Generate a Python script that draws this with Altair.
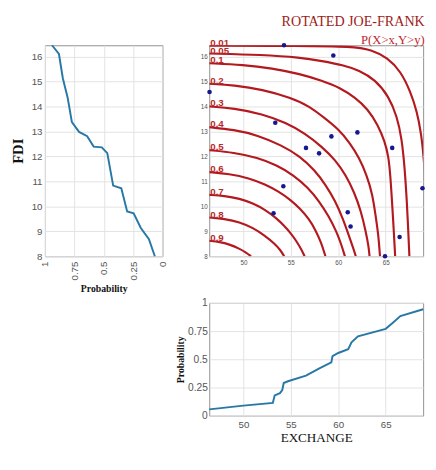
import altair as alt
import pandas as pd

# ---------------- data ----------------
# Left marginal: CDF of FDI
fdi_values = [16.45, 16.10, 15.13, 14.35, 13.37, 12.98, 12.81, 12.39, 12.36, 12.13,
              10.83, 10.72, 9.79, 9.72, 9.13, 8.68, 8.00]
fdi_prob = [0.940, 0.881, 0.848, 0.807, 0.771, 0.710, 0.641, 0.586, 0.517, 0.470,
            0.420, 0.351, 0.301, 0.246, 0.185, 0.116, 0.066]

# Bottom marginal: CDF of EXCHANGE
exch_values = [46.4, 50.0, 53.1, 53.3, 53.85, 54.1, 54.25, 54.7, 56.6, 57.96,
               59.27, 59.4, 60.0, 61.05, 61.4, 62.08, 65.0, 65.7, 66.55, 68.95]
exch_prob = [0.056, 0.089, 0.113, 0.180, 0.200, 0.228, 0.290, 0.305, 0.355, 0.417,
             0.472, 0.528, 0.556, 0.590, 0.650, 0.703, 0.770, 0.820, 0.883, 0.944]

# Observations
obs_exchange = [54.28, 59.48, 46.43, 53.36, 59.28, 62.02, 56.60, 57.98,
                65.69, 54.21, 68.88, 53.18, 61.00, 61.30, 66.47, 64.93]
obs_fdi = [16.45, 16.04, 14.58, 13.35, 12.80, 12.96, 12.34, 12.12,
           12.34, 10.80, 10.72, 9.72, 9.76, 9.19, 8.77, 8.00]

# Contour levels of P(X>x, Y>y)
levels = ["0.01", "0.05", "0.1", "0.2", "0.3", "0.4", "0.5", "0.6", "0.7", "0.8", "0.9"]

c001_x = [46.4, 56.0, 61.5, 63.5, 65.2, 66.6, 67.6, 68.3, 68.75, 69.0, 69.2]
c001_y = [16.43, 16.43, 16.40, 16.27, 15.95, 15.40, 14.60, 13.80, 12.90, 12.00, 11.00]
c005_x = [46.4, 52.0, 56.0, 58.3, 60.5, 62.2, 63.9, 65.3, 66.2, 66.7, 67.0, 67.2, 67.35, 67.5]
c005_y = [16.12, 16.07, 15.96, 15.82, 15.66, 15.45, 15.07, 14.42, 13.60, 12.70, 11.55, 10.40, 9.30, 8.00]
c01_x = [46.4, 50.0, 53.0, 56.0, 58.3, 60.2, 61.8, 63.1, 64.2, 64.9, 65.3, 65.5, 65.65, 65.8, 66.0]
c01_y = [15.73, 15.67, 15.53, 15.30, 15.03, 14.75, 14.35, 13.90, 13.25, 12.60, 12.00, 11.20, 10.30, 9.40, 8.00]
c02_x = [46.4, 49.0, 52.0, 55.0, 57.0, 58.5, 60.0, 61.2, 62.2, 63.0, 63.6, 63.95, 64.25, 64.4]
c02_y = [14.91, 14.85, 14.68, 14.35, 14.00, 13.55, 13.10, 12.55, 11.95, 11.25, 10.50, 9.60, 8.80, 8.00]
c03_x = [46.4, 49.0, 52.0, 54.5, 56.5, 58.3, 59.7, 60.8, 61.7, 62.4, 62.9, 63.2, 63.3]
c03_y = [14.00, 13.93, 13.70, 13.35, 12.92, 12.38, 11.85, 11.25, 10.55, 9.80, 9.00, 8.40, 8.00]
c04_x = [46.4, 49.0, 51.5, 54.0, 56.0, 57.5, 58.7, 59.7, 60.5, 61.1, 61.6, 61.85]
c04_y = [13.17, 13.07, 12.85, 12.45, 12.00, 11.45, 10.85, 10.20, 9.50, 8.85, 8.30, 8.00]
c05_x = [46.4, 49.0, 51.5, 53.5, 55.3, 56.8, 58.0, 59.0, 59.8, 60.3, 60.7]
c05_y = [12.25, 12.15, 11.95, 11.65, 11.25, 10.75, 10.20, 9.60, 9.00, 8.50, 8.00]
c06_x = [46.4, 48.5, 50.6, 52.3, 53.7, 55.0, 56.0, 56.9, 57.6, 58.2, 58.65]
c06_y = [11.37, 11.30, 11.13, 10.88, 10.60, 10.25, 9.90, 9.50, 9.05, 8.55, 8.00]
c07_x = [46.4, 48.0, 49.6, 51.0, 52.3, 53.5, 54.3, 55.0, 55.6, 56.1, 56.45]
c07_y = [10.46, 10.42, 10.31, 10.12, 9.86, 9.52, 9.22, 8.92, 8.60, 8.28, 8.00]
c08_x = [46.4, 48.0, 49.6, 51.0, 52.3, 53.3, 53.9, 54.3]
c08_y = [9.55, 9.50, 9.37, 9.14, 8.82, 8.50, 8.25, 8.00]
c09_x = [46.4, 47.5, 48.5, 49.6, 50.3, 50.8]
c09_y = [8.62, 8.57, 8.48, 8.30, 8.14, 8.00]

contour_xs = [c001_x, c005_x, c01_x, c02_x, c03_x, c04_x, c05_x, c06_x, c07_x, c08_x, c09_x]
contour_ys = [c001_y, c005_y, c01_y, c02_y, c03_y, c04_y, c05_y, c06_y, c07_y, c08_y, c09_y]

prob_ticks = [0, 0.25, 0.5, 0.75, 1]
fdi_ticks = [8, 9, 10, 11, 12, 13, 14, 15, 16]
exch_ticks = [50, 55, 60, 65]

# ---------------- tables ----------------
fdi_df = pd.DataFrame({"fdi": fdi_values, "p": fdi_prob})
exch_df = pd.DataFrame({"ex": exch_values, "p": exch_prob})
obs_df = pd.DataFrame({"ex": obs_exchange, "fdi": obs_fdi})
rows = []
for lvl, xs, ys in zip(levels, contour_xs, contour_ys):
    for i, (xv, yv) in enumerate(zip(xs, ys)):
        rows.append({"level": lvl, "i": i, "ex": xv, "fdi": yv})
cont_df = pd.DataFrame(rows)
lab_df = pd.DataFrame({"level": levels,
                       "ex": [xs[0] for xs in contour_xs],
                       "fdi": [ys[0] for ys in contour_ys]})

# ---------------- styling ----------------
BLUE = "#2878a6"
RED = "#b3191e"
LABEL_RED = "#b52a2c"
GRID = "#e2e2e2"
FRAME = "#8f8f8f"
LABC = "#555555"
SANS = "Liberation Sans"
SERIF = "Liberation Serif"

fdi_scale = alt.Scale(domain=[8, 16.45], nice=False, zero=False)
exch_scale = alt.Scale(domain=[46.4, 68.95], nice=False, zero=False)
frame = alt.ViewBackground(stroke=FRAME, strokeWidth=1)


def ax(**kw):
    base = dict(grid=True, gridColor=GRID, ticks=False, domain=False, labelOverlap=False,
                labelFont=SANS, labelColor=LABC, titleFont=SERIF, titleColor="#111111")
    base.update(kw)
    return alt.Axis(**base)


# Left: FDI marginal
left = alt.Chart(fdi_df).mark_line(color=BLUE, strokeWidth=2).encode(
    x=alt.X("p:Q", scale=alt.Scale(domain=[1, 0], nice=False),
            axis=ax(values=prob_ticks, format=".2~f", labelAngle=270,
                    labelFontSize=10, labelPadding=5, title="Probability",
                    titleFontSize=10, titleFontWeight="bold", titlePadding=4)),
    y=alt.Y("fdi:Q", scale=fdi_scale,
            axis=ax(values=fdi_ticks, format="d", labelFontSize=10, labelPadding=3,
                    title="FDI", titleFontSize=15, titleFontWeight="bold", titlePadding=6)),
    order=alt.Order("fdi:Q"),
).properties(width=121, height=217, view=frame)

# Top right: contours + observations (same axes in every layer)
tr_x_axis = ax(values=exch_ticks, format="d", labelFontSize=6.5, labelPadding=4, title=None)
tr_y_axis = ax(values=fdi_ticks, format="d", labelFontSize=6.5, labelPadding=2, title=None)

cont = alt.Chart(cont_df).mark_line(color=RED, strokeWidth=2.2, interpolate="basis", clip=True).encode(
    x=alt.X("ex:Q", scale=exch_scale, axis=tr_x_axis),
    y=alt.Y("fdi:Q", scale=fdi_scale, axis=tr_y_axis),
    detail="level:N",
    order=alt.Order("i:Q"),
)
labels = alt.Chart(lab_df).mark_text(align="left", baseline="bottom", dx=1, dy=2,
                                     font=SANS, fontSize=10, fontWeight="bold",
                                     color=LABEL_RED).encode(
    x=alt.X("ex:Q", scale=exch_scale, axis=tr_x_axis),
    y=alt.Y("fdi:Q", scale=fdi_scale, axis=tr_y_axis),
    text="level:N")
pts = alt.Chart(obs_df).mark_circle(size=22, color="#17178f", opacity=1).encode(
    x=alt.X("ex:Q", scale=exch_scale, axis=tr_x_axis),
    y=alt.Y("fdi:Q", scale=fdi_scale, axis=tr_y_axis))

topright = alt.layer(cont, labels, pts).properties(
    width=220, height=217, view=frame,
    title=alt.TitleParams("ROTATED JOE-FRANK", subtitle="P(X>x,Y>y)", anchor="end",
                          font=SERIF, fontSize=14.5, fontWeight="normal", color="#9c1c20",
                          subtitleFont=SERIF, subtitleFontSize=13, subtitleColor="#c0262b",
                          subtitlePadding=5, offset=-10.5))

# Blank cell
blank = alt.Chart(pd.DataFrame({"a": [0]})).mark_point(opacity=0).encode(
    x=alt.X("a:Q", axis=None), y=alt.Y("a:Q", axis=None)
).properties(width=121, height=116, view=alt.ViewBackground(stroke="transparent"))

# Bottom right: EXCHANGE marginal
bottom = alt.Chart(exch_df).mark_line(color=BLUE, strokeWidth=2).encode(
    x=alt.X("ex:Q", scale=exch_scale,
            axis=ax(values=exch_ticks, format="d", labelFontSize=10, labelPadding=4,
                    title="EXCHANGE", titleFontSize=13.5, titleFontWeight="normal", titlePadding=2)),
    y=alt.Y("p:Q", scale=alt.Scale(domain=[0, 1], nice=False),
            axis=ax(values=prob_ticks, format=".2~f", labelFontSize=10.5, labelPadding=2,
                    title="Probability", titleFontSize=10, titleFontWeight="bold", titlePadding=2)),
    order=alt.Order("ex:Q"),
).properties(width=220, height=116, view=frame)

chart = alt.concat(left, topright, blank, bottom, columns=2,
                   spacing=alt.RowColnumber(row=48, column=48),
                   bounds="flush", align="each").properties(
    padding={"left": 2, "top": 0, "right": 0, "bottom": 0}
).configure(background="white")

chart.save("out.html", embed_options={"renderer": "svg", "actions": False})
